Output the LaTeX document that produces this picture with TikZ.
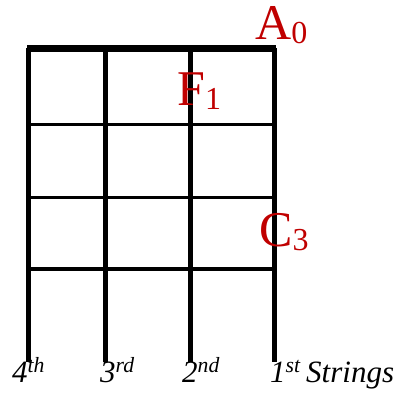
\documentclass[tikz,border=0pt]{standalone}
\usepackage{fontspec}
\setmainfont{Liberation Serif}
\usepackage{tikz}
\usetikzlibrary{positioning}
\definecolor{notered}{RGB}{192,0,0}
% note name with a lowered octave digit
\newcommand{\fretnote}[2]{#1\raisebox{-4pt}{\fontsize{32}{32}\selectfont #2}}

\begin{document}
\begin{tikzpicture}[
		x=1pt,y=1pt,
		nut/.style={line width=7pt,draw=black},
		string/.style={line width=5pt,draw=black},
		fret/.style={line width=3.5pt,draw=black},
		note/.style={inner sep=0pt,anchor=base west,text=notered,font=\fontsize{50}{52}\selectfont},
		strlabel/.style={inner sep=0pt,anchor=base west,font=\fontsize{31}{33}\selectfont\itshape}
		]
		\useasboundingbox (0,0) rectangle (398,392);
		% strings, 4th to 1st
		\foreach \name/\xpos in {four/28,three/105.5,two/190.5,one/274.5}{
			\coordinate (\name top) at (\xpos,344);
			\coordinate (\name bot) at (\xpos,30);
			\draw[string] (\name top) -- (\name bot);
		}
		% nut and frets
		\coordinate (nutL) at (27,343.5);
		\coordinate (nutR) at (276,343.5);
		\draw[nut] (nutL) -- (nutR);
		\foreach \i/\ypos in {1/267.5,2/194.5,3/123}{
			\coordinate (fretL\i) at (27,\ypos);
			\coordinate (fretR\i) at (277,\ypos);
			\draw[fret] (fretL\i) -- (fretR\i);
		}
		% notes
		\node[note] (A0) at (255,353) {\fretnote{A}{0}};
		\node[note] (F1) at (177,287) {\fretnote{F}{1}};
		\node[note] (C3) at (259,146) {\fretnote{C}{3}};
		% string labels
		\node[strlabel] (lfour) at (12,10) {4\textsuperscript{th}};
		\node[strlabel] (lthree) at (100,10) {3\textsuperscript{rd}};
		\node[strlabel] (ltwo) at (182,10) {2\textsuperscript{nd}};
		\node[strlabel] (lone) at (270,10) {1\textsuperscript{st}};
		\node[strlabel] (lstrings) at (306,10) {Strings};
\end{tikzpicture}
\end{document}
